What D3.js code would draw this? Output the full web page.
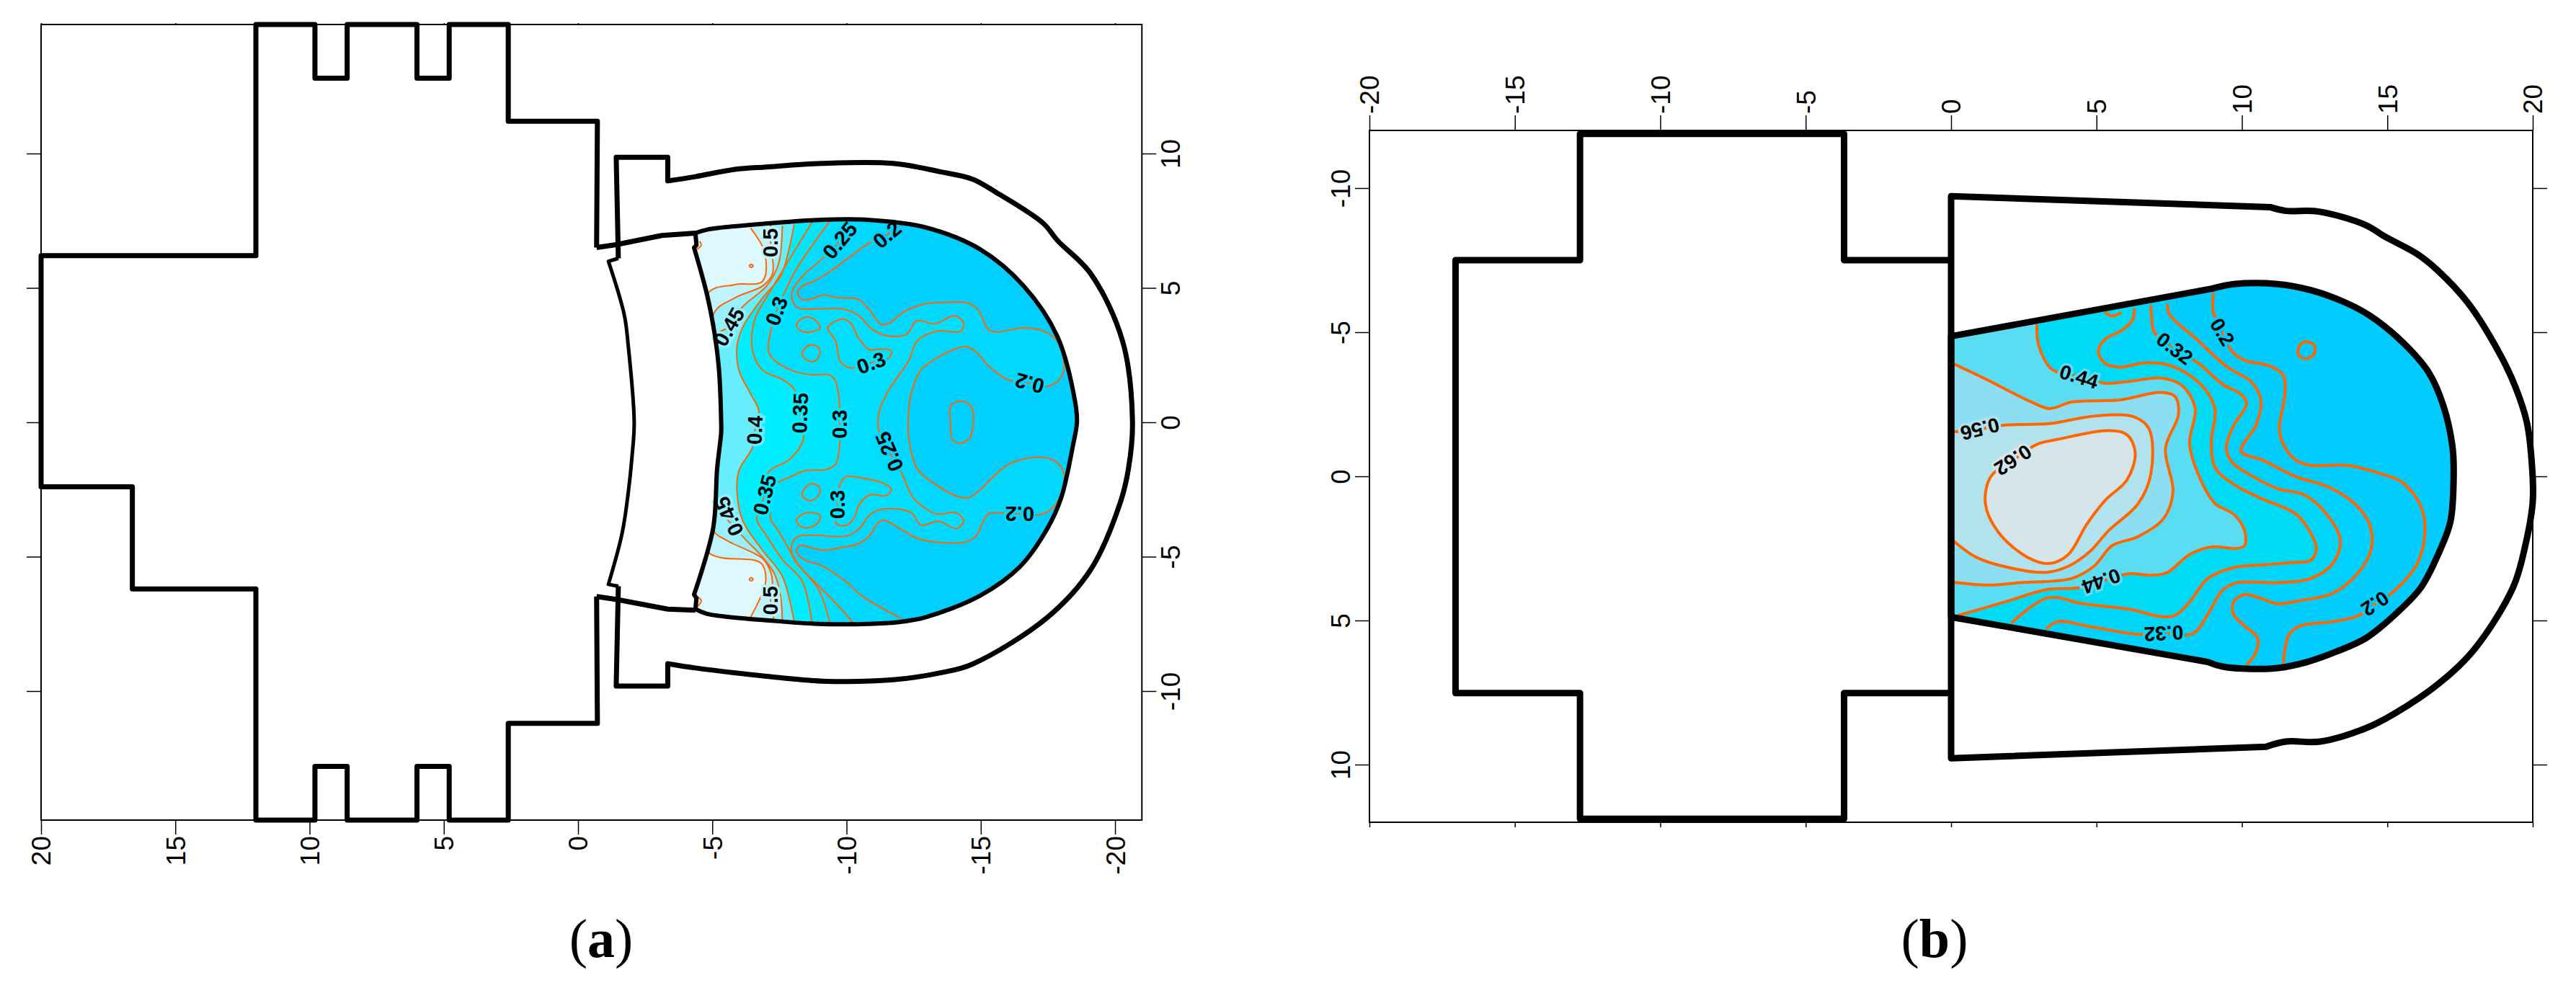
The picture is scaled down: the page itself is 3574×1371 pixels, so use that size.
<!DOCTYPE html>
<html><head><meta charset="utf-8">
<script src="https://cdnjs.cloudflare.com/ajax/libs/d3/7.8.5/d3.min.js"></script>
<style>html,body{margin:0;padding:0;background:#fff}svg{display:block}</style>
</head><body><svg id="c" width="3574" height="1371"></svg>
<script>
// ---- axis ticks ----
const ticksAX=[20,15,10,5,0,-5,-10,-15,-20];
const ticksAY=[10,5,0,-5,-10];
const ticksBX=[-20,-15,-10,-5,0,5,10,15,20];
const ticksBY=[-10,-5,0,5,10];
// ---- panel (a) geometry, data units ----
const crossA=[[-0.69,6.5],[-0.72,11.2],[2.6,11.2],[2.6,14.8],[4.8,14.8],[4.8,12.8],[6,12.8],[6,14.8],[8.6,14.8],[8.6,12.8],[9.8,12.8],[9.8,14.8],[12,14.8],[12,6.2],[20,6.2],[20,-2.4],[16.6,-2.4],[16.6,-6.2],[12,-6.2],[12,-14.8],[9.8,-14.8],[9.8,-12.8],[8.6,-12.8],[8.6,-14.8],[6,-14.8],[6,-12.8],[4.8,-12.8],[4.8,-14.8],[2.6,-14.8],[2.6,-11.2],[-0.72,-11.2],[-0.69,-6.48]];
const linkTopA=[[-0.69,6.5],[-1.42,6.61],[-3.12,6.95],[-4.37,7.04]];
const linkBotA=[[-0.69,-6.48],[-1.42,-6.59],[-3.34,-6.95],[-4.37,-6.99]];
const shellA=[[-1.5,6.1],[-1.42,9.86],[-3.34,9.86],[-3.34,8.98],[-4.37,9.14],[-5.84,9.41],[-7.02,9.5],[-9.08,9.63],[-11.73,9.63],[-13.5,9.32],[-14.68,9.05],[-15.56,8.56],[-17.33,7.4],[-17.85,6.77],[-19.1,5.52],[-20.28,3.02],[-20.65,0],[-20.5,-1.72],[-20.2,-2.97],[-19.1,-5.47],[-17.48,-7.26],[-14.68,-9],[-13.5,-9.32],[-11.73,-9.58],[-9.08,-9.63],[-7.02,-9.45],[-4.37,-9.14],[-3.34,-8.98],[-3.34,-9.81],[-1.42,-9.81],[-1.5,-6.1]];
const shellCornersA=[0,1,2,3,27,28,29,30];
const innerCurveA=[[-1.5,6.1],[-1.13,5.99],[-1.72,4],[-1.87,2.84],[-2.09,0],[-2.01,-1.27],[-1.87,-2.61],[-1.64,-4.13],[-1.13,-6.03],[-1.5,-6.1]];
const innerCornersA=[0,1,8,9];
const regionA=[[-4.37,7.04],[-4.81,7.17],[-7.31,7.42],[-8.94,7.53],[-10.85,7.53],[-12.91,7.26],[-14.97,6.44],[-16.6,5.07],[-17.85,3.2],[-18.51,0.78],[-18.58,0],[-18.44,-0.82],[-18,-2.79],[-17.48,-3.95],[-16.45,-5.38],[-14.97,-6.45],[-12.91,-7.26],[-11.88,-7.44],[-10.85,-7.5],[-8.94,-7.5],[-7.31,-7.39],[-4.81,-7.13],[-4.37,-6.95],[-4.41,-6.54],[-4.32,-6.41],[-5.03,-3.95],[-5.18,-1.72],[-5.33,-0.375],[-5.33,0],[-5.25,1.94],[-5.1,3.2],[-4.81,4.72],[-4.32,6.5],[-4.41,6.59]];
const regionCornersA=[0,22,23,24,32,33];
// ---- panel (a) contours ----
const a020=[[-12.03,7.31],[-11.44,6.95],[-10.85,6.68],[-10.11,6.15],[-9.38,5.61],[-8.79,5.25],[-8.35,5.07],[-8.17,4.81],[-8.35,4.56],[-8.64,4.58],[-9.16,4.73],[-9.67,4.63],[-10.41,4.58],[-10.85,4.18],[-11.29,3.64],[-11.59,3.69],[-12.18,4.13],[-12.91,4.4],[-13.8,4.46],[-14.46,4.45],[-14.9,4.18],[-15.27,3.46],[-15.56,3.36],[-16.6,3.51],[-17.33,3.39],[-17.85,3.02],[-18.1,2.03],[-17.92,1.59],[-17.48,1.34],[-16.82,1.45],[-16,1.59],[-15.27,2.12],[-14.83,2.62],[-14.46,2.82],[-14.09,2.75],[-13.21,2.3],[-12.77,1.94],[-12.4,1.05],[-12.29,0],[-12.32,-0.64],[-12.62,-1.72],[-13.21,-2.25],[-14.09,-2.74],[-14.53,-2.81],[-14.97,-2.52],[-15.42,-2.07],[-16.08,-1.54],[-17.18,-1.3],[-17.77,-1.45],[-18.1,-1.94],[-17.85,-2.97],[-17.48,-3.33],[-17.15,-3.44],[-16.45,-3.41],[-15.71,-3.37],[-15.27,-3.41],[-15.05,-3.77],[-14.83,-4.22],[-14.46,-4.44],[-13.5,-4.47],[-12.62,-4.31],[-12.03,-3.98],[-11.37,-3.64],[-11.14,-3.77],[-10.85,-4.22],[-10.41,-4.53],[-9.82,-4.65],[-9.16,-4.76],[-8.64,-4.65],[-8.27,-4.58],[-8.13,-4.8],[-8.42,-5.11],[-9.08,-5.34],[-9.97,-5.92],[-10.56,-6.45],[-12.03,-7.3]];
const a025=[[-9.97,7.5],[-9.75,6.77],[-9.16,6.15],[-8.35,5.43],[-7.98,4.9],[-7.98,4.54],[-8.2,4.25],[-8.94,4.22],[-9.82,4.22],[-10.41,4],[-11,3.42],[-11.59,3.21],[-12.25,3.29],[-12.62,3.78],[-13.28,3.66],[-14.02,3.96],[-14.36,3.69],[-14.24,3.39],[-13.35,3.39],[-12.62,3.02],[-12.32,2.3],[-11.59,1.23],[-11.22,0.43],[-11.19,-0.29],[-11.59,-1.09],[-12.03,-1.85],[-12.47,-2.79],[-12.91,-3.19],[-13.35,-3.41],[-14.09,-3.37],[-14.36,-3.68],[-14.09,-3.95],[-13.43,-3.68],[-12.77,-3.82],[-12.47,-3.41],[-12.1,-3.25],[-11.29,-3.24],[-10.85,-3.46],[-10.48,-3.95],[-10.04,-4.22],[-8.2,-4.25],[-7.95,-4.58],[-8.05,-5.11],[-8.79,-5.92],[-9.67,-6.81],[-10.26,-7.48]];
const a030=[[-9.38,7.49],[-8.79,6.68],[-8.13,5.7],[-7.68,4.81],[-7.39,4.14],[-7.17,3.37],[-7.09,2.66],[-7.32,2.3],[-8.05,1.9],[-8.64,1.77],[-9.38,1.75],[-9.6,1.5],[-9.75,0.43],[-9.75,-0.07],[-9.75,-0.74],[-9.6,-1.54],[-9.23,-1.76],[-8.49,-1.79],[-7.9,-2.03],[-7.24,-2.39],[-7.17,-2.97],[-7.17,-3.59],[-7.46,-4.04],[-8.2,-5.29],[-8.94,-6.19],[-9.38,-7.48]];
const a035=[[-8.71,7.44],[-7.98,6.24],[-7.17,4.9],[-6.58,3.82],[-6.5,2.66],[-6.87,1.94],[-7.61,1.59],[-8.05,1.23],[-8.27,0.34],[-8.38,-0.65],[-7.9,-1.36],[-7.09,-1.85],[-6.95,-2.7],[-6.65,-3.59],[-7.02,-4.22],[-7.61,-5.11],[-8.35,-5.92],[-8.71,-7.48]];
const a040=[[-8.05,7.37],[-7.83,6.33],[-7.54,5.43],[-6.87,4.63],[-6.14,3.55],[-5.92,2.84],[-5.99,1.94],[-6.43,1.05],[-6.73,0.43],[-6.58,-0.29],[-6.5,-0.92],[-5.99,-1.8],[-5.92,-2.61],[-6.14,-3.68],[-6.87,-4.76],[-7.61,-5.74],[-8.05,-7.44]];
const a045=[[-7.61,7.31],[-7.46,5.88],[-7.02,5.07],[-6.14,4.31],[-5.62,3.55],[-5.1,3.2],[-5.1,-2.79],[-5.47,-3.5],[-6.14,-4.26],[-6.87,-5.02],[-7.32,-5.65],[-7.54,-6.45],[-7.61,-7.44]];
const a050=[[-7.17,7.35],[-7.17,6.68],[-7.24,6.15],[-7.24,5.52],[-6.87,5.07],[-5.84,4.63],[-5.03,4],[-5.03,-3.99],[-5.55,-4.4],[-6.87,-5.07],[-7.17,-5.56],[-7.24,-5.96],[-7.17,-6.63],[-7.32,-7.44]];
const a055=[[-6.43,7.22],[-6.95,6.33],[-6.87,5.25],[-5.84,5.12],[-4.81,4.76],[-4.81,-4.76],[-5.25,-5.02],[-6.8,-5.23],[-6.99,-5.92],[-6.43,-7.24]];
const fillsA=["#00D8FF","#00DFFF","#00E6FF","#00EEFF","#66EEFF","#96F0FF","#BFF4FF","#DEF8FF"];
const baseA="#00CFFF";
const bandsA=[a020,a025,a030,a035,a040,a045,a050,a055];
const blobsA=[
[[-13.87,0.6],[-14.09,0.76],[-14.46,0.74],[-14.68,0.51],[-14.72,0],[-14.6,-0.56],[-14.24,-0.78],[-13.94,-0.65],[-13.87,0]],
[[-8.13,3.6],[-8.35,3.87],[-8.64,3.91],[-8.94,3.69],[-9.01,3.51],[-8.64,3.36],[-8.35,3.38]],
[[-8.35,2.62],[-8.64,2.88],[-8.94,2.79],[-9.01,2.57],[-8.86,2.3],[-8.57,2.29],[-8.35,2.5]],
[[-8.35,-2.61],[-8.64,-2.3],[-8.94,-2.36],[-9.01,-2.61],[-8.79,-2.88],[-8.57,-2.9],[-8.35,-2.74]],
[[-8.13,-3.64],[-8.42,-3.39],[-8.79,-3.37],[-9.01,-3.46],[-8.94,-3.73],[-8.57,-3.93],[-8.27,-3.86]],
[[-11.59,2.41],[-11.66,2.66],[-11.29,2.73],[-10.85,2.7],[-10.41,3.2],[-10.19,3.64],[-9.89,3.84],[-9.53,3.73],[-9.3,3.51],[-9.6,3.02],[-9.75,2.3],[-10.11,2.03],[-10.92,2.21]],
[[-9.75,-2.34],[-9.97,-2.03],[-10.56,-2.07],[-11.37,-2.27],[-11.66,-2.48],[-11.51,-2.72],[-10.85,-2.7],[-10.48,-3.06],[-10.26,-3.59],[-9.97,-3.84],[-9.6,-3.75],[-9.67,-3.06]],
[[-6.38,5.82],[-6.45,5.88],[-6.52,5.82],[-6.45,5.76]],
[[-6.38,-5.84],[-6.45,-5.78],[-6.52,-5.84],[-6.45,-5.9]]
];
const arcsA=[[[-4.52,6.73],[-4.59,6.59],[-4.44,6.44]],[[-4.41,-6.47],[-4.59,-6.63],[-4.44,-6.86]]];
const labelTextA=["0.5","0.25","0.2","0.3","0.45","0.3","0.2","0.4","0.35","0.3","0.25","0.35","0.3","0.45","0.5","0.2"];
const labelPosA=[[-7.17,6.68],[-9.75,6.77],[-11.51,6.98],[-7.39,4.14],[-5.62,3.55],[-10.92,2.21],[-16.82,1.45],[-6.58,-0.29],[-8.27,0.34],[-9.75,-0.07],[-11.59,-1.09],[-6.95,-2.7],[-9.67,-3.06],[-5.62,-3.5],[-7.17,-6.63],[-16.45,-3.41]];
const labelAngA=[-90,-50,-40,-70,-60,-20,195,-88,-88,-90,-113,-76,-90,-115,-90,180];
const labelBgA=["#BFF4FF","#00D8FF","#00CFFF","#00E6FF","#96F0FF","#00E6FF","#00D8FF","#66EEFF","#00EEFF","#00E6FF","#00D8FF","#00EEFF","#00E6FF","#96F0FF","#BFF4FF","#00D8FF"];
// ---- panel (b) geometry ----
const crossB=[[0,-7.5],[-3.68,-7.5],[-3.68,-11.88],[-12.76,-11.88],[-12.76,-7.5],[-17.04,-7.5],[-17.04,7.52],[-12.76,7.52],[-12.76,11.88],[-3.68,11.88],[-3.68,7.52],[0,7.52]];
const shellB=[[0,-9.72],[10.97,-9.34],[11.51,-9.21],[12.6,-9.19],[14.23,-8.73],[14.91,-8.32],[16,-7.73],[16.68,-7.19],[17.76,-6.03],[18.85,-4.28],[19.4,-3.11],[19.8,-1.86],[19.98,-0.28],[20,0.87],[19.75,2.37],[19.32,3.86],[17.96,6.04],[16.77,7.19],[15.25,8.23],[14.23,8.75],[12.7,9.2],[11.51,9.2],[10.83,9.38],[0,9.78]];
const shellCornersB=[0,1,22,23];
const regionB=[[0,-4.86],[8.96,-6.51],[9.72,-6.67],[11.23,-6.67],[12.37,-6.46],[13.51,-6.05],[14.39,-5.58],[15.53,-4.65],[16.42,-3.61],[16.92,-2.47],[17.24,-1.02],[17.28,0.02],[17.17,1.57],[16.79,2.61],[16.16,3.85],[15.28,4.78],[14.27,5.61],[13.25,6.08],[12.24,6.44],[11.23,6.65],[10.35,6.68],[9.34,6.6],[8.83,6.44],[0,4.88]];
const regionCornersB=[0,1,22,23];
// ---- panel (b) contours ----
const b020=[[9.02,-6.36],[9.02,-5.69],[9.33,-5.01],[9.65,-4.34],[10.09,-4.03],[10.98,-3.82],[11.42,-3.51],[11.48,-2.89],[11.29,-1.64],[11.42,-1.12],[11.86,-0.56],[12.37,-0.38],[13.63,-0.38],[14.77,-0.09],[15.53,0.22],[16.16,1.05],[16.29,1.98],[16.03,3.02],[15.21,4],[14.58,4.42],[14.01,4.83],[13.13,5.04],[11.99,5.19],[11.61,5.5],[11.42,6.49]];
const b026=[[7.44,-5.99],[7.5,-5.63],[8.45,-4.75],[9.46,-3.82],[10.35,-3.25],[10.66,-2.58],[10.47,-1.75],[9.97,-0.87],[10.72,-0.56],[11.86,0.01],[13,0.38],[13.88,0.95],[14.39,1.67],[14.45,2.5],[14.01,3.33],[13.13,4.05],[11.99,4.31],[11.23,4.42],[10.72,4.26],[10.09,4.1],[9.71,4.36],[9.71,4.78],[10.09,5.19],[10.54,5.61],[10.47,6.13],[10.16,6.54]];
const b032=[[6.87,-5.94],[6.93,-5.17],[7,-4.98],[7.69,-4.44],[8.51,-3.92],[9.33,-3.2],[9.97,-2.84],[10.16,-2.53],[9.71,-1.75],[9.46,-1.02],[9.65,-0.5],[10.22,-0.09],[11.23,0.43],[12.12,0.63],[12.87,1.26],[13.38,2.19],[13.13,3.02],[12.37,3.54],[11.23,3.69],[9.84,3.69],[9.33,3.95],[8.83,4.78],[8.32,5.45],[7.31,5.45],[6.43,5.48],[4.91,5.24],[3.65,5.04],[3.27,5.3]];
const b038=[[6.3,-5.84],[6.24,-5.43],[5.86,-5.06],[5.29,-4.75],[5.06,-4.34],[5.29,-3.92],[5.8,-3.79],[6.68,-3.94],[7.44,-3.87],[8.2,-3.51],[8.83,-2.89],[9.08,-2.27],[8.95,-1.23],[9.08,-0.3],[9.71,0.27],[10.6,0.74],[11.86,1.31],[12.37,1.98],[12.56,2.5],[12.37,2.91],[11.74,2.99],[10.72,3.07],[9.71,3.17],[8.83,3.54],[8.2,4.36],[7.69,4.83],[7.19,4.86],[6.17,4.62],[4.53,4.42],[3.33,4.21],[2.07,5.09]];
const b044=[[2.95,-5.27],[3.01,-4.55],[3.46,-3.72],[4.4,-3.46],[5.29,-3.23],[6.17,-3.3],[7.19,-3.41],[7.94,-3.15],[8.39,-2.37],[8.2,-1.12],[8.58,0.12],[9.08,0.95],[9.71,1.31],[10.09,1.88],[10.09,2.4],[9.84,2.5],[8.95,2.45],[8.2,2.71],[7.44,3.33],[6.93,3.43],[6.11,3.38],[5.16,3.64],[4.34,3.87],[3.27,3.93],[2,4.31],[0.23,4.83]];
const b050=[[0,-3.94],[1.12,-3.41],[2.76,-2.58],[3.39,-2.35],[4.15,-2.58],[5.8,-2.65],[7.19,-2.91],[7.69,-2.78],[7.82,-2.16],[7.37,-0.97],[7.63,0.53],[7.31,1.46],[6.43,2.09],[5.54,2.4],[4.91,3.12],[4.15,3.54],[2.38,3.69],[1.24,3.77],[0,3.66]];
const b056=[[0,-1.54],[0.99,-1.64],[1.88,-1.78],[3.39,-1.83],[4.91,-2.09],[6.3,-2.06],[6.81,-1.64],[6.87,-0.09],[6.43,0.95],[5.42,1.88],[4.78,2.6],[4.03,3.12],[3.27,3.33],[2,3.17],[0.87,2.81],[0,2.17]];
const b062=[[2.95,-1.11],[3.65,-1.28],[5.42,-1.59],[6.05,-1.44],[6.33,-0.82],[6.05,0.12],[5.29,0.84],[4.66,1.67],[4.03,2.71],[3.39,3.02],[2.63,2.81],[1.62,1.93],[1.18,0.95],[1.37,0],[2.13,-0.56]];
const fillsB=["#00CDFE","#00D1FC","#00D6F9","#00DBF5","#5ADDF2","#8CDFF2","#B2E2EE"];
const baseB="#00CCFF", topB="#D6E5EA";
const bandsB=[b020,b026,b032,b038,b044,b050,b056];
const blobsB=[[[12.18,-4.67],[12.49,-4.55],[12.47,-4.23],[12.18,-4.08],[11.93,-4.23],[11.99,-4.55]]];
const arcsB=[[[5.29,-5.69],[5.54,-5.56],[5.86,-5.69]]];
const labelTextB=["0.2","0.32","0.44","0.56","0.62","0.44","0.32","0.2"];
const labelPosB=[[9.33,-5.01],[7.69,-4.44],[4.4,-3.46],[0.99,-1.64],[2.13,-0.56],[5.16,3.64],[7.31,5.45],[14.58,4.42]];
const labelAngB=[59,37,17,166,147,160,177,146];
const labelBgB=["#00CCFF","#00D6F9","#5ADDF2","#B2E2EE","#D6E5EA","#5ADDF2","#00D6F9","#00CCFF"];

const svg=d3.select("#c");
const FONT="'Liberation Sans',Arial,sans-serif", ORANGE="#FF6600";
const plain=d=>String(d); // the figure prints a short hyphen, not a minus sign

function gens(x,y){
  const lin=d3.line().x(d=>x(d[0])).y(d=>y(d[1]));
  const sm=d3.line().x(d=>x(d[0])).y(d=>y(d[1])).curve(d3.curveCatmullRom.alpha(0.5));
  const smc=d3.line().x(d=>x(d[0])).y(d=>y(d[1])).curve(d3.curveCatmullRomClosed.alpha(0.5));
  const outline=(pts,cuts)=>{
    let s="";
    for(let i=0;i<cuts.length-1;i++){
      const part=sm(pts.slice(cuts[i],cuts[i+1]+1));
      s+=i?part.replace(/^M/,"L"):part;
    }
    return s;
  };
  return {lin,sm,smc,outline};
}
function styleAxis(g,fn){
  g.select(".domain").remove();
  g.selectAll("line").attr("stroke","#000").attr("stroke-width",1.5);
  fn(g.selectAll("text").attr("font-family",FONT).attr("font-size",37).attr("fill","#000"));
}
function frame(x,y){
  svg.append("rect").attr("x",x.range()[0]).attr("y",y.range()[0])
    .attr("width",x.range()[1]-x.range()[0]).attr("height",y.range()[1]-y.range()[0])
    .attr("fill","none").attr("stroke","#000").attr("stroke-width",2);
}
function contourPanel(id,G,regionPath,base,bands,fills,xLeft,yEnd,yStart,top,topFill,blobs,arcs,lw){
  svg.append("clipPath").attr("id",id).append("path").attr("d",regionPath);
  const g=svg.append("g").attr("clip-path",`url(#${id})`);
  g.append("path").attr("d",regionPath).attr("fill",base);
  bands.forEach((b,i)=>{
    g.append("path").attr("d",G.sm(b)+`L${xLeft},${yEnd}L${xLeft},${yStart}Z`).attr("fill",fills[i]);
  });
  if(top) g.append("path").attr("d",G.smc(top)).attr("fill",topFill);
  const lines=g.append("g").attr("fill","none").attr("stroke",ORANGE).attr("stroke-width",lw);
  bands.forEach(b=>lines.append("path").attr("d",G.sm(b)));
  if(top) lines.append("path").attr("d",G.smc(top));
  blobs.forEach(b=>lines.append("path").attr("d",G.smc(b)));
  arcs.forEach(b=>lines.append("path").attr("d",G.sm(b)));
}
function labels(x,y,texts,pos,ang,bg,size){
  svg.append("g").selectAll("text").data(texts).join("text")
    .attr("transform",(d,i)=>`translate(${x(pos[i][0])},${y(pos[i][1])}) rotate(${ang[i]})`)
    .attr("text-anchor","middle").attr("dy",".35em")
    .attr("font-family",FONT).attr("font-size",size).attr("font-weight","bold")
    .attr("fill","#000").attr("stroke",(d,i)=>bg[i]).attr("stroke-width",7)
    .attr("paint-order","stroke").text(d=>d);
}
function caption(cx,letter){
  const t=svg.append("text").attr("x",cx).attr("y",1328).attr("text-anchor","middle")
    .attr("font-family","'Liberation Serif',serif").attr("font-size",76).attr("fill","#000");
  t.append("tspan").text("(");
  t.append("tspan").attr("font-weight","bold").text(letter);
  t.append("tspan").text(")");
}

// ---- panel (a) ----
const xA=d3.scaleLinear().domain([20,-21]).range([57,1584.3]);
const yA=d3.scaleLinear().domain([14.8,-14.8]).range([34,1138]);
const GA=gens(xA,yA);
const regionPathA=GA.outline(regionA,regionCornersA)+"Z";
contourPanel("ca",GA,regionPathA,baseA,bandsA,fillsA,xA(-3),yA(-9.5),yA(9.5),null,null,blobsA,arcsA,2);
labels(xA,yA,labelTextA,labelPosA,labelAngA,labelBgA,29);
frame(xA,yA);
svg.append("g").attr("transform","translate(0,1138)")
  .call(d3.axisBottom(xA).tickValues(ticksAX).tickSize(20).tickFormat(plain))
  .call(g=>styleAxis(g,t=>t.attr("transform","rotate(-90)").attr("x",-22).attr("y",0).attr("dy",".35em").attr("text-anchor","end")));
svg.append("g").attr("transform","translate(0,34)")
  .call(d3.axisTop(xA).tickValues(ticksAX).tickSize(2).tickFormat(""))
  .call(g=>styleAxis(g,t=>t));
svg.append("g").attr("transform","translate(57,0)")
  .call(d3.axisLeft(yA).tickValues(ticksAY).tickSize(20).tickFormat(""))
  .call(g=>styleAxis(g,t=>t));
svg.append("g").attr("transform","translate(1584.3,0)")
  .call(d3.axisRight(yA).tickValues(ticksAY).tickSize(20).tickFormat(plain))
  .call(g=>styleAxis(g,t=>t.attr("transform","rotate(-90)").attr("x",0).attr("y",40).attr("dy",".35em").attr("text-anchor","middle")));
const outA=svg.append("g").attr("fill","none").attr("stroke","#000").attr("stroke-linejoin","round").attr("stroke-width",7);
outA.append("path").attr("d",GA.lin(crossA));
outA.append("path").attr("d",GA.lin(linkTopA));
outA.append("path").attr("d",GA.lin(linkBotA));
outA.append("path").attr("d",GA.outline(shellA,shellCornersA));
outA.append("path").attr("d",GA.outline(innerCurveA,innerCornersA)).attr("stroke-width",5);
outA.append("path").attr("d",regionPathA).attr("stroke-width",6);
caption(834,"a");

// ---- panel (b) ----
const xB=d3.scaleLinear().domain([-20,20]).range([1900,3514]);
const yB=d3.scaleLinear().domain([-12,12]).range([181,1141]);
const GB=gens(xB,yB);
const regionPathB=GB.outline(regionB,regionCornersB)+"Z";
contourPanel("cb",GB,regionPathB,baseB,bandsB,fillsB,xB(-3),yB(12),yB(-12),b062,topB,blobsB,arcsB,4);
labels(xB,yB,labelTextB,labelPosB,labelAngB,labelBgB,28);
frame(xB,yB);
svg.append("g").attr("transform","translate(0,181)")
  .call(d3.axisTop(xB).tickValues(ticksBX).tickSize(21).tickFormat(plain))
  .call(g=>styleAxis(g,t=>t.attr("transform","rotate(-90)").attr("x",23).attr("y",0).attr("dy",".35em").attr("text-anchor","start")));
svg.append("g").attr("transform","translate(0,1141)")
  .call(d3.axisBottom(xB).tickValues(ticksBX).tickSize(7).tickFormat(""))
  .call(g=>styleAxis(g,t=>t));
svg.append("g").attr("transform","translate(1900,0)")
  .call(d3.axisLeft(yB).tickValues(ticksBY).tickSize(20).tickFormat(plain))
  .call(g=>styleAxis(g,t=>t.attr("transform","rotate(-90)").attr("x",0).attr("y",-40).attr("dy",".35em").attr("text-anchor","middle")));
svg.append("g").attr("transform","translate(3514,0)")
  .call(d3.axisRight(yB).tickValues(ticksBY).tickSize(20).tickFormat(""))
  .call(g=>styleAxis(g,t=>t));
const outB=svg.append("g").attr("fill","none").attr("stroke","#000").attr("stroke-linejoin","round").attr("stroke-width",9);
outB.append("path").attr("d",GB.lin(crossB));
outB.append("path").attr("d",GB.outline(shellB,shellCornersB)+"Z");
outB.append("path").attr("d",regionPathB);
caption(2684,"b");
</script></body></html>
